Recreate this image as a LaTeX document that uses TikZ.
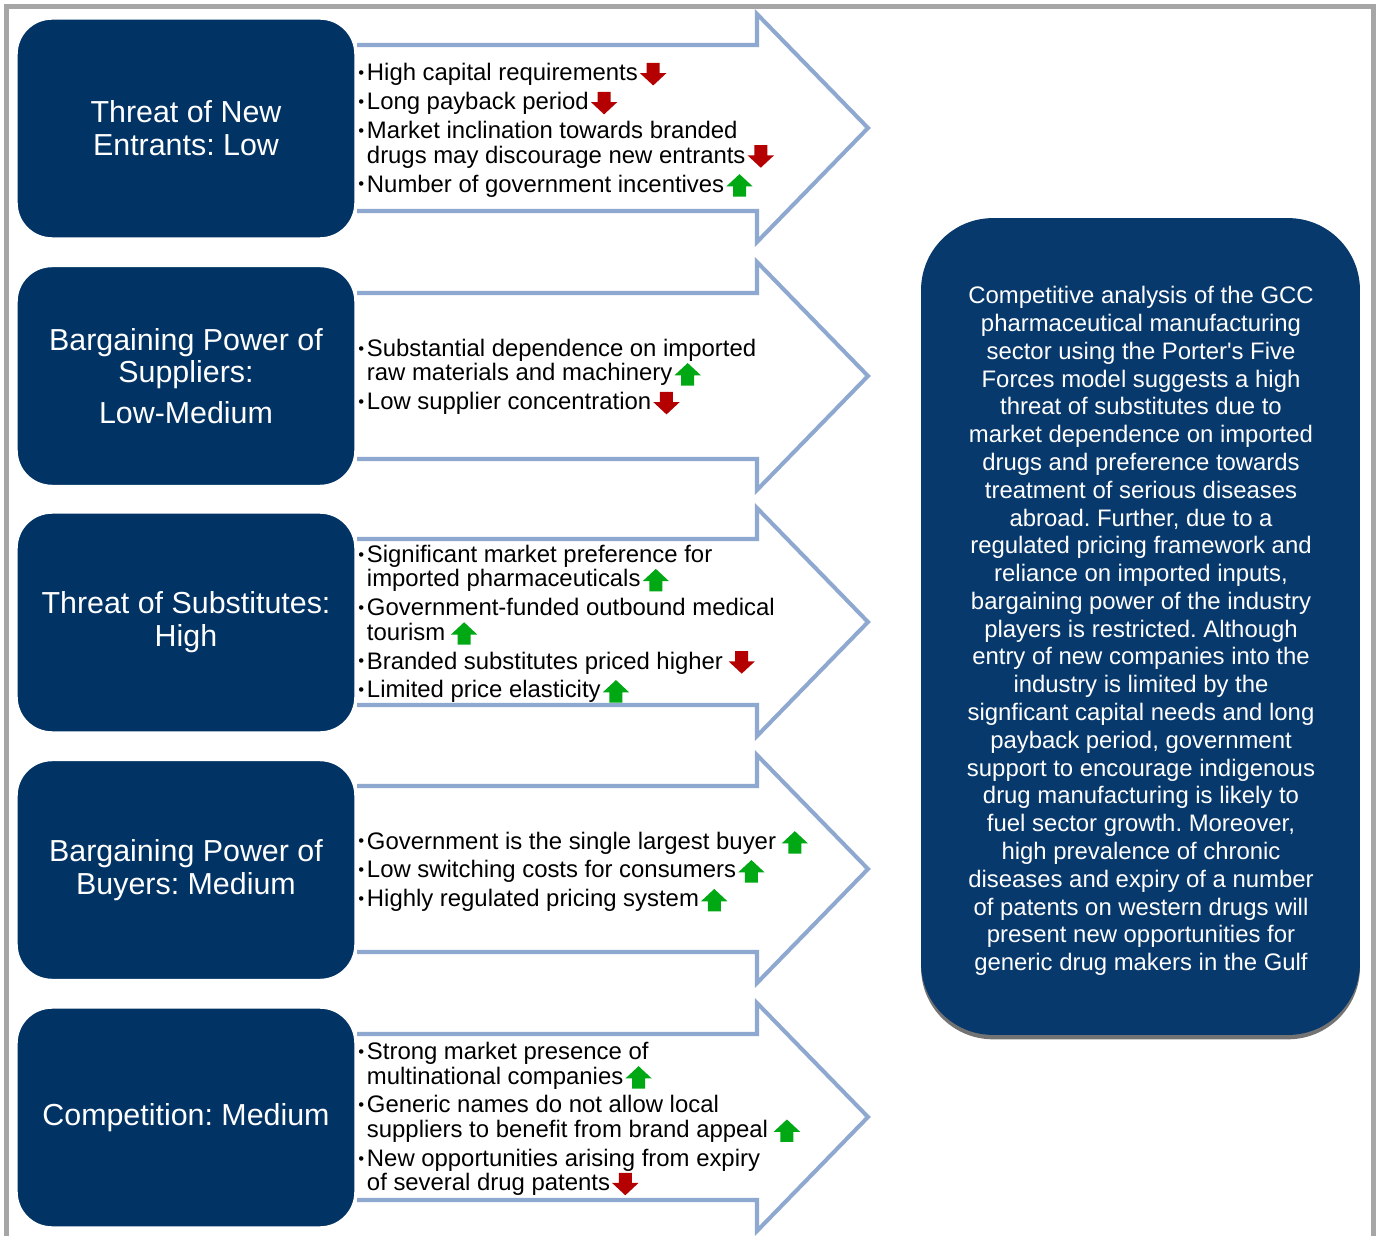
\documentclass[tikz,border=0pt]{standalone}
\usepackage{fontspec}
\setmainfont{Liberation Sans}
\usetikzlibrary{shadows}
\definecolor{navy}{RGB}{1,51,101}
\definecolor{navyR}{RGB}{8,57,108}
\definecolor{arrblue}{RGB}{142,168,208}
\definecolor{framegray}{RGB}{166,166,166}
\definecolor{arrred}{RGB}{180,0,0}
\definecolor{arrgreen}{RGB}{0,168,20}
\newcommand{\arrdn}{\kern1.2pt\tikz[baseline=0pt,x=1pt,y=1pt]\fill[arrred] (-3.7,10.2) -- (3.7,10.2) -- (3.7,4.4) -- (7.5,4.4) -- (0,-2.6) -- (-7.5,4.4) -- (-3.7,4.4) -- cycle;}
\newcommand{\arrup}{\kern1.2pt\tikz[baseline=0pt,x=1pt,y=1pt]\fill[arrgreen] (-3.7,-2.6) -- (3.7,-2.6) -- (3.7,3.2) -- (7.5,3.2) -- (0,10.2) -- (-7.5,3.2) -- (-3.7,3.2) -- cycle;}
\newcommand{\bl}{\makebox[4.9pt][l]{\raisebox{1.3pt}{\fontsize{9.5}{9.5}\selectfont\textbullet}}}
\newcommand{\ind}{\hspace*{4.9pt}}
\newcommand{\gap}{\\[2.55pt]}
\frenchspacing
\begin{document}
\frenchspacing
\begin{tikzpicture}[x=0.02cm,y=-0.02cm,
  forcebox/.style={fill=navy,draw=white,line width=0.8pt,rounded corners=0.7cm,
    minimum width=6.76cm,minimum height=4.38cm,text=white,align=center,
    font=\fontsize{17.3}{18.7}\selectfont},
  bultext/.style={anchor=west,inner sep=0pt,align=left,
    font=\fontsize{13.6}{13.9}\selectfont},
  arrowline/.style={draw=arrblue,line width=2.3pt,fill=white},
  summary/.style={fill=navyR,rounded corners=1.44cm,minimum width=8.78cm,
    minimum height=16.34cm,
    drop shadow={shadow xshift=0pt,shadow yshift=-2.5pt,opacity=0.55,fill=black}},
  summarytext/.style={text=white,align=center,inner sep=0pt,
    font=\fontsize{13.6}{15.82}\selectfont},
  frame/.style={draw=framegray,line width=2.8pt}]
\useasboundingbox (0,0) rectangle (1376,1236);
\fill[white] (0,0) rectangle (1376,1236);
\draw[frame] (6.5,1245) -- (6.5,6.5) -- (1373.5,6.5) -- (1373.5,1245);

% arrows
\foreach \c in {128,376,622,869,1117} {
  \draw[arrowline] (357,\c-83) -- (757,\c-83) -- (757,\c-114) -- (868,\c)
     -- (757,\c+114) -- (757,\c+83) -- (357,\c+83);
}

% left boxes
\node[forcebox] (f1) at (186,128.5) {Threat of New\\Entrants: Low};
\node[forcebox] (f2) at (186,376) {Bargaining Power of\\Suppliers:\\[4.5pt]Low-Medium};
\node[forcebox] (f3) at (186,622.5) {Threat of Substitutes:\\High};
\node[forcebox] (f4) at (186,870) {Bargaining Power of\\Buyers: Medium};
\node[forcebox] (f5) at (186,1117.5) {Competition: Medium};

% bullet texts
\node[bultext] (t1) at (358,130) {\bl High capital requirements\arrdn\gap
\bl Long payback period\arrdn\gap
\bl Market inclination towards branded\\
\ind drugs may discourage new entrants\arrdn\gap
\bl Number of government incentives\arrup};

\node[bultext] (t2) at (358,377) {\bl Substantial dependence on imported\\
\ind raw materials and machinery\arrup\gap
\bl Low supplier concentration\arrdn};

\node[bultext] (t3) at (358,624) {\bl Significant market preference for\\
\ind imported pharmaceuticals\arrup\gap
\bl Government-funded outbound medical\\
\ind tourism\kern2pt\arrup\gap
\bl Branded substitutes priced higher\kern2pt\arrdn\gap
\bl Limited price elasticity\arrup};

\node[bultext] (t4) at (358,871.5) {\bl Government is the single largest buyer\kern2pt\arrup\gap
\bl Low switching costs for consumers\arrup\gap
\bl Highly regulated pricing system\arrup};

\node[bultext] (t5) at (358,1119) {\bl Strong market presence of\\
\ind multinational companies\arrup\gap
\bl Generic names do not allow local\\
\ind suppliers to benefit from brand appeal\kern2pt\arrup\gap
\bl New opportunities arising from expiry\\
\ind of several drug patents\arrdn};

% summary box
\node[summary] (sum) at (1140.5,626.5) {};
\node[summarytext] (sumtext) at (1141,631) {Competitive analysis of the GCC\\
pharmaceutical manufacturing\\
sector using the Porter\textquotesingle s Five\\
Forces model suggests a high\\
threat of substitutes due to\\
market dependence on imported\\
drugs and preference towards\\
treatment of serious diseases\\
abroad. Further, due to a\\
regulated pricing framework and\\
reliance on imported inputs,\\
bargaining power of the industry\\
players is restricted. Although\\
entry of new companies into the\\
industry is limited by the\\
signficant capital needs and long\\
payback period, government\\
support to encourage indigenous\\
drug manufacturing is likely to\\
fuel sector growth. Moreover,\\
high prevalence of chronic\\
diseases and expiry of a number\\
of patents on western drugs will\\
present new opportunities for\\
generic drug makers in the Gulf};
\end{tikzpicture}
\end{document}
